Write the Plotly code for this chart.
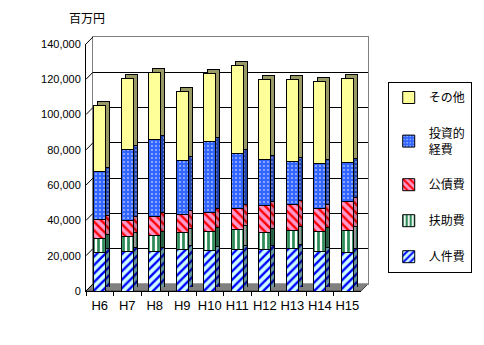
import plotly.graph_objects as go

# ---- data (百万円) ----
categories = ["H6", "H7", "H8", "H9", "H10", "H11", "H12", "H13", "H14", "H15"]
personnel = [22000, 22600, 22600, 23500, 23000, 23500, 23500, 24100, 22600, 22000]   # 人件費
assistance = [7800, 8300, 8800, 9800, 10700, 11300, 9800, 10200, 11100, 12300]       # 扶助費
debt = [10700, 9000, 10800, 10000, 10800, 11900, 15100, 14700, 13000, 16400]         # 公債費
investment = [27300, 40500, 43900, 30900, 40200, 31100, 26000, 24300, 25400, 22000]  # 投資的経費
other = [37600, 40300, 38000, 39100, 38800, 49900, 45200, 46300, 46400, 48000]       # その他
series_names = ["人件費", "扶助費", "公債費", "投資的<br>経費", "その他"]
y_tick_values = [0, 20000, 40000, 60000, 80000, 100000, 120000, 140000]
y_tick_labels = ["0", "20,000", "40,000", "60,000", "80,000", "100,000", "120,000", "140,000"]
unit_label = "百万円"

series_values = [personnel, assistance, debt, investment, other]

# ---- styles ----
front_styles = [
    dict(shape="/", bg="#ccffff", fg="#0000ff", size=6, sol=0.4),
    dict(shape="|", bg="#ffffff", fg="#2e8b57", size=5, sol=0.55),
    dict(shape="\\", bg="#ff99cc", fg="#ff0000", size=6, sol=0.4),
    dict(shape=".", bg="#3366ff", fg="#ffffff", size=4, sol=0.12),
    dict(shape="", bg="#ffff99", fg="#ffff99", size=6, sol=0.3),
]
side_styles = [
    dict(shape="/", bg="#669999", fg="#000099", size=6, sol=0.4),
    dict(shape="|", bg="#999999", fg="#1f5f3f", size=5, sol=0.55),
    dict(shape="\\", bg="#cc7799", fg="#cc0000", size=6, sol=0.4),
    dict(shape=".", bg="#2244aa", fg="#ccccff", size=4, sol=0.12),
    dict(shape="", bg="#999966", fg="#999966", size=6, sol=0.3),
]

FONT = "Liberation Sans, Noto Sans CJK JP, sans-serif"
W, H = 484, 345
L, R, T, B = 86, 112, 37, 54
PW, PH = W - L - R, H - T - B
fx, fy = 279 / PW, 247 / PH      # front plane extent
bx, by = 7 / PW, 7 / PH          # back wall offset
dx, dy = 4 / PW, 4 / PH          # bar depth offset
bar_w = 0.43
YMAX = 140000

fig = go.Figure()

# dummy trace to create the back-wall subplot
fig.add_trace(go.Scatter(x=[], y=[], xaxis="x", yaxis="y", showlegend=False, hoverinfo="skip"))

def pattern(st):
    return dict(shape=st["shape"], bgcolor=st["bg"], fgcolor=st["fg"],
                size=st["size"], solidity=st["sol"], fillmode="replace")

# depth (side/top faces)
for name, vals, st in zip(series_names, series_values, side_styles):
    fig.add_trace(go.Bar(
        x=categories, y=vals, xaxis="x2", yaxis="y2", width=bar_w,
        marker=dict(color=st["bg"], pattern=pattern(st), line=dict(color="black", width=1)),
        showlegend=False, hoverinfo="skip"))

# front faces
n = len(series_names)
for i, (name, vals, st) in enumerate(zip(series_names, series_values, front_styles)):
    fig.add_trace(go.Bar(
        x=categories, y=vals, xaxis="x3", yaxis="y3", width=bar_w, name=name,
        legendgroup=name, legendrank=n - i,
        marker=dict(color=st["bg"], pattern=pattern(st), line=dict(color="black", width=1))))

shapes = []
# floor
shapes.append(dict(type="path", xref="paper", yref="paper", layer="below",
                   path=f"M 0 0 L {fx} 0 L 1 {by} L {bx} {by} Z",
                   fillcolor="#808080", line=dict(color="#404040", width=1)))
# diagonal tick connectors
for v in y_tick_values:
    y0 = v / YMAX * fy
    y1 = by + v / YMAX * (1 - by)
    shapes.append(dict(type="line", xref="paper", yref="paper", x0=0, y0=y0, x1=bx, y1=y1,
                       line=dict(color="black", width=1)))

fig.update_layout(
    width=W, height=H, margin=dict(l=L, r=R, t=T, b=B),
    paper_bgcolor="white", plot_bgcolor="rgba(0,0,0,0)",
    barmode="stack", template="none",
    font=dict(family=FONT, size=12, color="black"),
    shapes=shapes,
    xaxis=dict(domain=[bx, 1], range=[0, 1], showgrid=False, zeroline=False,
               showticklabels=False, showline=True, linecolor="#808080", mirror=True, anchor="y"),
    yaxis=dict(domain=[by, 1], range=[0, YMAX], tickvals=y_tick_values, showgrid=True,
               gridcolor="black", gridwidth=1, zeroline=False, showticklabels=False,
               showline=True, linecolor="#808080", mirror=True, anchor="x"),
    xaxis2=dict(domain=[dx, dx + fx], range=[-0.5, len(categories) - 0.5], type="category",
                visible=False, anchor="y2", categoryarray=categories),
    yaxis2=dict(domain=[dy, dy + fy], range=[0, YMAX], visible=False, anchor="x2"),
    xaxis3=dict(domain=[0, fx], range=[-0.5, len(categories) - 0.5], type="category",
                categoryarray=categories, anchor="y3", showgrid=False, zeroline=False,
                showline=True, linecolor="black", ticks="outside", tickson="boundaries",
                ticklen=4, tickcolor="black", tickfont=dict(size=13), ticklabelstandoff=2,
                tickangle=0),
    yaxis3=dict(domain=[0, fy], range=[0, YMAX], tickvals=y_tick_values, ticktext=y_tick_labels,
                anchor="x3", showgrid=False, zeroline=False, showline=True, linecolor="black",
                ticks="", tickfont=dict(size=11), ticklabelstandoff=2),
    legend=dict(x=(392 - L) / PW, xanchor="left", y=(H - B - 82) / PH, yanchor="top",
                bordercolor="black", borderwidth=1, bgcolor="white",
                traceorder="grouped", tracegroupgap=17,
                font=dict(size=12), itemwidth=30),
    annotations=[dict(text=unit_label, xref="paper", yref="paper", x=0, y=1,
                      xanchor="center", yanchor="middle", xshift=1, yshift=18,
                      showarrow=False, font=dict(size=12))],
)

fig.write_html("out.html")
